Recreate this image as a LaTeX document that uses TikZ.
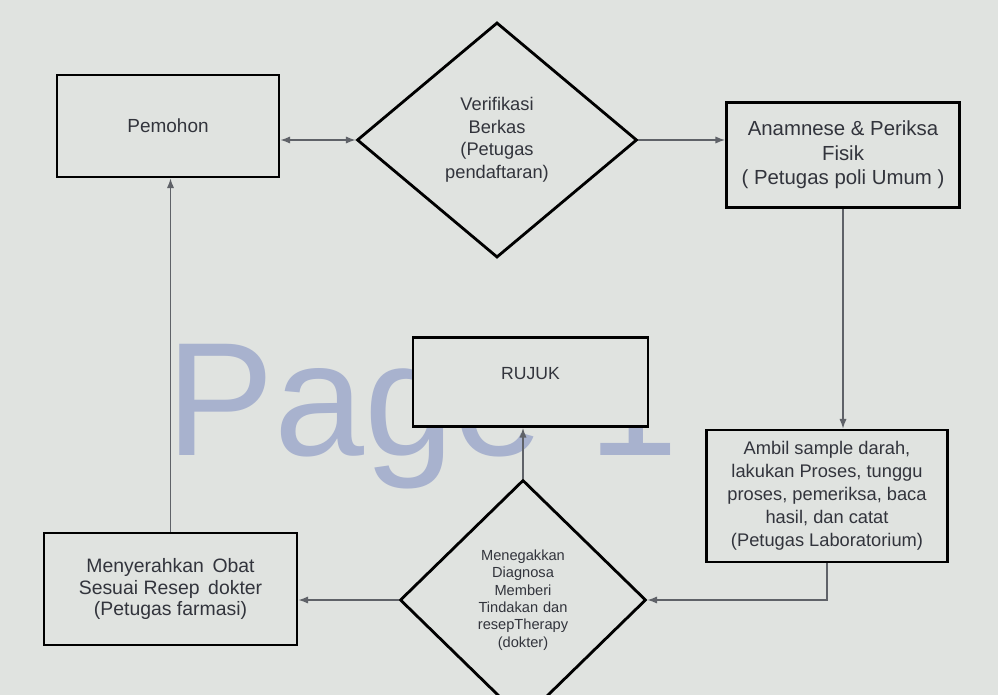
\documentclass[tikz,border=0pt]{standalone}
\usepackage{fontspec}
\setmainfont{Liberation Sans}
\usepackage{xcolor}
\usetikzlibrary{shapes.geometric,arrows.meta}

\definecolor{bgcol}{RGB}{224,227,224}
\definecolor{txtcol}{RGB}{50,52,60}
\definecolor{linecol}{RGB}{95,98,104}
\definecolor{wmcol}{RGB}{168,178,206}

\begin{document}
\begin{tikzpicture}[x=0.025cm,y=-0.025cm,
    box/.style={rectangle, draw=black, line width=2pt, fill=bgcol, text=txtcol, align=center, inner sep=0pt},
    decision/.style={diamond, draw=black, line width=2pt, fill=bgcol, text=txtcol, align=center, inner sep=0pt},
    flow/.style={draw=linecol, line width=0.9pt, -{Latex[length=2.4mm,width=1.8mm]}}]
    \clip (0,0) rectangle (998,695);
    \fill[bgcol] (0,0) rectangle (998,695);

    % Watermark
    \node[anchor=base west, inner sep=0pt, text=wmcol, font=\fontsize{115}{115}\selectfont] (wm) at (166,455) {Page 1};

    % Nodes
    \node[box, minimum width=5.55cm, minimum height=2.55cm, font=\fontsize{13.5}{16}\selectfont] (pemohon) at (168,126) {Pemohon};
    \node[decision, minimum width=7cm, minimum height=5.875cm, text width=2.6cm, font=\fontsize{13}{16}\selectfont] (verif) at (497,140) {Verifikasi\\Berkas\\(Petugas\\pendaftaran)};
    \node[box, minimum width=5.825cm, minimum height=2.625cm, font=\fontsize{14.5}{17.4}\selectfont] (anamnese) at (843,155) {Anamnese \& Periksa\\Fisik\\( Petugas poli Umum )};
    \node[box, minimum width=6.025cm, minimum height=3.3cm, font=\fontsize{13}{16.4}\selectfont] (lab) at (827,496) {Ambil sample darah,\\lakukan Proses, tunggu\\proses, pemeriksa, baca\\hasil, dan catat\\(Petugas Laboratorium)};
    \node[decision, minimum width=6.15cm, minimum height=6cm, text width=2.4cm, font=\fontsize{10.4}{12.4}\selectfont] (dokter) at (523,600) {Menegakkan\\Diagnosa\\Memberi\\Tindakan dan\\resepTherapy\\(dokter)};
    \node[box, minimum width=5.875cm, minimum height=2.225cm, font=\fontsize{12.5}{15}\selectfont] (rujuk) at (530.5,382) {\raisebox{0.45cm}{RUJUK}};
    \node[box, minimum width=6.325cm, minimum height=2.8cm, font=\fontsize{13.8}{15}\selectfont] (farmasi) at (170.5,589) {Menyerahkan\, Obat\\Sesuai Resep\, dokter\\(Petugas farmasi)};

    % Edges
    \draw[flow, {Latex[length=2.4mm,width=1.8mm]}-{Latex[length=2.4mm,width=1.8mm]}] (pemohon.east |- verif.west) -- (verif.west);
    \draw[flow] (verif.east) -- (verif.east -| anamnese.west);
    \draw[flow] (anamnese.south) -- (anamnese.south |- lab.north);
    \draw[flow] (lab.south) |- (dokter.east);
    \draw[flow] (dokter.north) -- (dokter.north |- rujuk.south);
    \draw[flow] (dokter.west) -- (dokter.west -| farmasi.east);
    \draw[flow] (farmasi.north) -- (farmasi.north |- pemohon.south);
\end{tikzpicture}
\end{document}
